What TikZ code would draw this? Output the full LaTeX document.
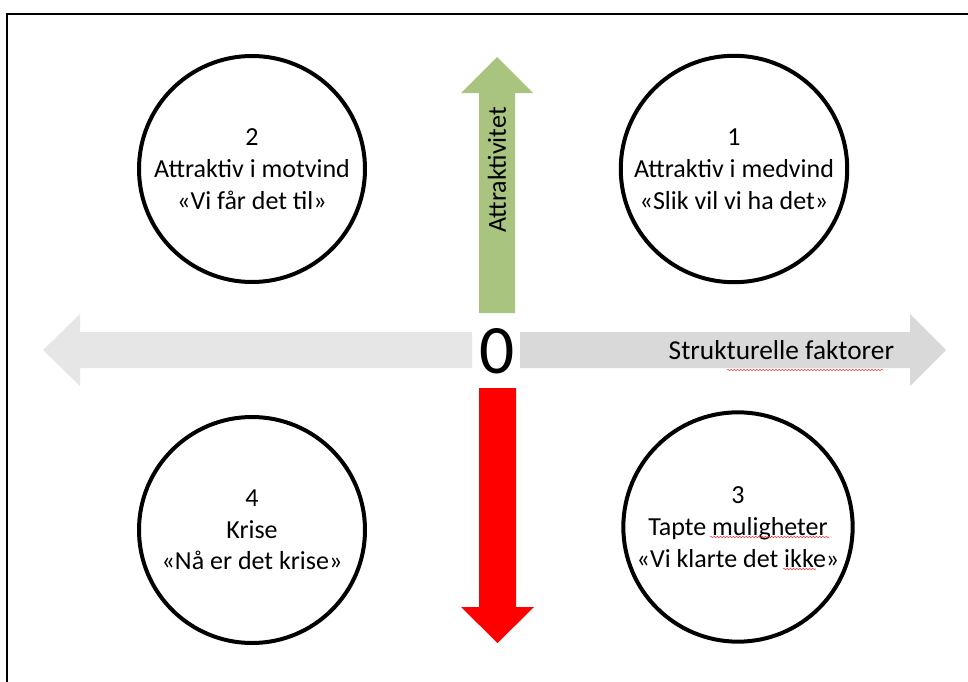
\documentclass[tikz,border=0pt]{standalone}
\usepackage{fontspec}
\setmainfont{Carlito}
\usetikzlibrary{positioning,decorations.pathmorphing}
\definecolor{q4green}{RGB}{169,196,127}
\definecolor{q4red}{RGB}{255,0,0}
\definecolor{q4grayR}{RGB}{217,217,217}
\definecolor{q4grayL}{RGB}{231,230,230}

\begin{document}
\begin{tikzpicture}[x=0.75pt, y=-0.75pt,
    scenario/.style={draw, circle, line width=3pt, minimum size=169.5pt,
      align=center, font=\fontsize{19.5}{23.8}\selectfont},
    axislabel/.style={font=\fontsize{19.5}{22}\selectfont},
    spellerr/.style={red!80!white, line width=0.4pt, decorate,
      decoration={snake, amplitude=0.5pt, segment length=2.4pt}}]
  \useasboundingbox (0,0) rectangle (968,682);

  % Frame
  \draw[line width=1.5pt] (968,13.5) -- (6.5,13.5) -- (6.5,682);

  % Left arrow
  \fill[q4grayL] (472,332) -- (80,332) -- (80,314) -- (43,350) -- (80,386) %
    -- (80,368) -- (472,368) -- cycle;

  % Right arrow
  \fill[q4grayR] (520,332) -- (910,332) -- (910,314) -- (946,350) -- (910,386) %
    -- (910,368) -- (520,368) -- cycle;

  % Up arrow
  \fill[q4green] (479,313) -- (479,93) -- (461,93) -- (497,57) -- (533,93) %
    -- (515,93) -- (515,313) -- cycle;

  % Down arrow
  \fill[q4red] (479,388) -- (479,607) -- (461,607) -- (497.5,643) -- (534,607) %
    -- (516,607) -- (516,388) -- cycle;

  % Axis labels
  \node[axislabel, rotate=90] (attr) at (497,170) {Attraktivitet};
  \node[axislabel, font=\fontsize{20.5}{22}\selectfont, anchor=west] (struct) %
    at (664,350) {Strukturelle faktorer};
  \node[font=\fontsize{52}{52}\selectfont] (zero) at (497,351) {0};

  % Scenarios
  \node[scenario] (s1) at (734,169) {1\\Attraktiv i medvind\\«Slik vil vi ha det»};
  \node[scenario] (s2) at (252,169) {2\\Attraktiv i motvind\\«Vi får det til»};
  \node[scenario] (s3) at (738,527) {3\\Tapte muligheter\\«Vi klarte det ikke»};
  \node[scenario] (s4) at (252,530) {4\\Krise\\«Nå er det krise»};

  % Spelling marks
  \draw[spellerr] (727,370) -- (883,370);
  \draw[spellerr] (710,537) -- (829,537);
  \draw[spellerr] (783,569) -- (816,569);
\end{tikzpicture}
\end{document}
